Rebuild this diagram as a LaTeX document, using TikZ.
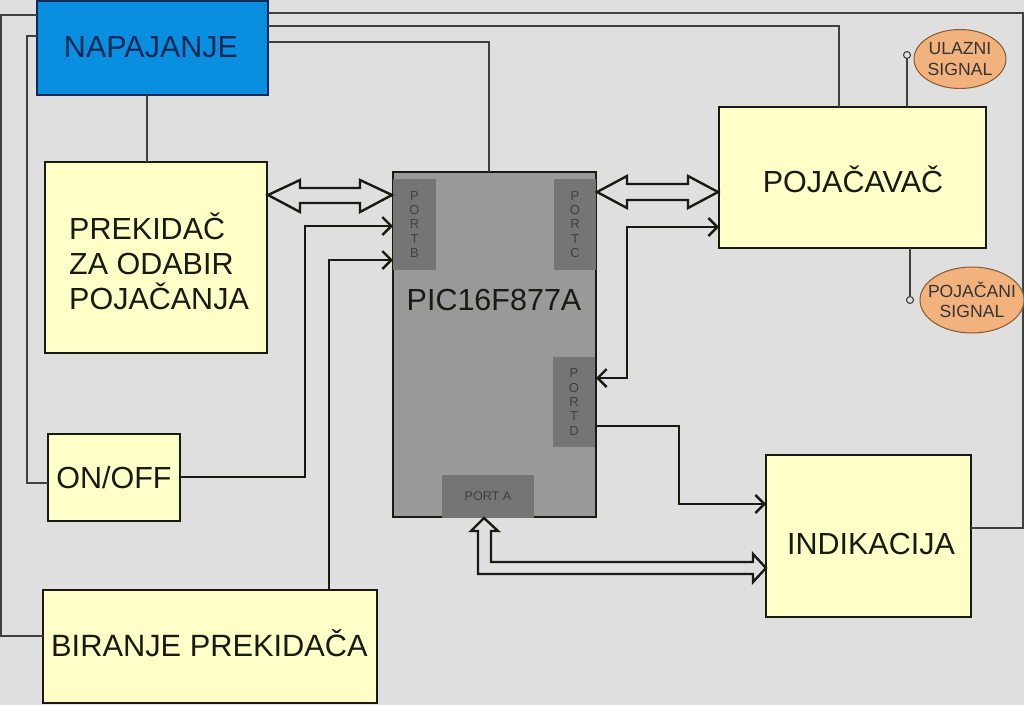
\documentclass[tikz,border=0pt]{standalone}
\usepackage{fontspec}
\setmainfont{Liberation Sans}
\usetikzlibrary{arrows.meta,shapes.geometric}
\definecolor{bgc}{HTML}{DFDFDF}
\definecolor{boxc}{HTML}{FFFFC8}
\definecolor{bluec}{HTML}{0A8EE0}
\definecolor{bluet}{HTML}{0C2A55}
\definecolor{picc}{HTML}{999999}
\definecolor{portc}{HTML}{757575}
\definecolor{ovalc}{HTML}{F2B27D}
\definecolor{inkc}{HTML}{1A1A14}
\newcommand{\fs}[1]{\fontsize{#1}{#1}\selectfont}
\tikzset{
  x=1pt,y=-1pt,
  blk/.style={draw=inkc,line width=2.4pt,inner sep=0pt,outer sep=0pt,text=inkc,font=\fs{30.5}},
  pwr/.style={draw=black!75,line width=1.2pt},
  sig/.style={draw=inkc,line width=2.4pt,line join=miter},
  arw/.style={sig,-{Straight Barb[length=9pt,width=18pt,line width=2.4pt]}},
  barw/.style={sig,{Straight Barb[length=9pt,width=18pt,line width=2.4pt]}-{Straight Barb[length=9pt,width=18pt,line width=2.4pt]}},
  portbox/.style={fill=portc,inner sep=0pt,outer sep=0pt,text=black!75,font=\fs{13},align=center},
  oval/.style={draw=brown!70!black,fill=ovalc,line width=1pt,ellipse,inner sep=-10pt,text=black!80,font=\fontsize{17.6}{20.5}\selectfont,align=center},
  term/.style={circle,draw=black!75,fill=bgc,line width=1.1pt,minimum size=7pt,inner sep=0pt},
  lbl/.style={text=inkc,font=\fontsize{30.5}{35}\selectfont,inner sep=0pt},
}
\newcommand{\bx}[7]{% name x0 y0 x1 y1 style text
  \node[#6,minimum width={(#4-#2)*1pt},minimum height={(#5-#3)*1pt},anchor=north west] (#1) at (#2,#3) {#7};}
\begin{document}
\begin{tikzpicture}
\useasboundingbox (0,0) rectangle (1024,705);
\fill[bgc] (0,0) rectangle (1024,705);
\coordinate (rt) at (1023,13);
\coordinate (rb) at (1023,528);
\coordinate (lt) at (1,15);
\coordinate (lb) at (1,636);
\coordinate (mt) at (27,36);
\coordinate (mb) at (27,483);
\coordinate (ct) at (839,26);
\coordinate (pt) at (489,42);
% boxes
\bx{nap}{37}{1}{268}{95}{blk,fill=bluec,draw=bluet,text=bluet,font=\fs{30.5}}{\hspace{-3pt}\raisebox{1pt}{NAPAJANJE}}
\bx{prek}{45}{162}{267}{353}{blk,fill=boxc}{}
\bx{onoff}{48}{434}{180}{521}{blk,fill=boxc}{ON/OFF}
\bx{bir}{43}{590}{377}{703}{blk,fill=boxc,font=\fs{30.8}}{\hspace{-1pt}\raisebox{6pt}{BIRANJE PREKIDAČA}}
\bx{pic}{393}{172}{596}{517}{blk,fill=picc}{}
\bx{poj}{719}{107}{986}{248}{blk,fill=boxc}{}
\bx{ind}{766}{455}{971}{617}{blk,fill=boxc}{}
\bx{portb}{393}{179}{436}{270}{portbox}{P\\[1.4pt]O\\[1.4pt]R\\[1.4pt]T\\[1.4pt]B}
\bx{portc}{554}{179}{596}{270}{portbox}{P\\[1.4pt]O\\[1.4pt]R\\[1.4pt]T\\[1.4pt]C}
\bx{portd}{553}{357}{595}{447}{portbox}{P\\[1.4pt]O\\[1.4pt]R\\[1.4pt]T\\[1.4pt]D}
\bx{porta}{442}{475}{534}{518}{portbox,font=\fs{12.6}}{PORT A}
\node[lbl,align=left,anchor=north west] (prekt) at (69,213) {PREKIDAČ\\ZA ODABIR\\POJAČANJA};
\node[lbl] (pict) at (494,300) {PIC16F877A};
\node[lbl] (pojt) at (853,179) {POJAČAVAČ};
\node[lbl] (indt) at (871,544) {INDIKACIJA};
% power wires
\draw[pwr] (nap.east |- rt) -- (rt) -- (rb) -- (ind.east |- rb);
\draw[pwr] (nap.east |- ct) -- (ct) -- (ct |- poj.north);
\draw[pwr] (nap.east |- pt) -- (pt) -- (pt |- pic.north);
\draw[pwr] (nap.west |- lt) -- (lt) -- (lb) -- (bir.west |- lb);
\draw[pwr] (nap.west |- mt) -- (mt) -- (mb) -- (onoff.west |- mb);
\coordinate (nprek) at (147,95);
\draw[pwr] (nprek) -- (nprek |- prek.north);
% signal arrows
\coordinate (sa) at (305,226);
\coordinate (sb) at (329,260);
\draw[arw] (onoff.east |- 0,477) -- (sa |- 0,477) -- (sa) -- (pic.west |- sa);
\draw[arw] (sb |- bir.north) -- (sb) -- (pic.west |- sb);
\coordinate (sc) at (627,227);
\draw[barw] (poj.west |- sc) -- (sc) -- (627,378) -- (pic.east |- 0,378);
\coordinate (sd) at (679,426);
\draw[arw] (pic.east |- sd) -- (sd) -- (679,504) -- (ind.west |- 0,504);
% double arrows
\draw[sig,fill=bgc] (268,195) -- (300,180) -- (300,188) -- (360,188) -- (360,180) -- (392,195) -- (360,212) -- (360,203) -- (300,203) -- (300,212) -- cycle;
\draw[sig,fill=bgc] (597,192) -- (627,176) -- (627,184) -- (688,184) -- (688,176) -- (718,192) -- (688,208) -- (688,200) -- (627,200) -- (627,208) -- cycle;
\draw[sig,fill=bgc] (484,518) -- (498,531) -- (491,531) -- (491,562) -- (753,562) -- (753,554) -- (766,568) -- (753,582) -- (753,574) -- (478,574) -- (478,531) -- (471,531) -- cycle;
% signals
\node[oval,minimum width=92pt,minimum height=59pt] (ul) at (960,59) {ULAZNI\\SIGNAL};
\node[oval,minimum width=104pt,minimum height=66pt] (pp) at (972,300) {POJAČANI\\SIGNAL};
\node[term] (t1) at (907,55) {};
\node[term] (t2) at (910,300) {};
\draw[pwr] (t1) -- (t1 |- poj.north);
\draw[pwr] (t2) -- (t2 |- poj.south);
\end{tikzpicture}
\end{document}
